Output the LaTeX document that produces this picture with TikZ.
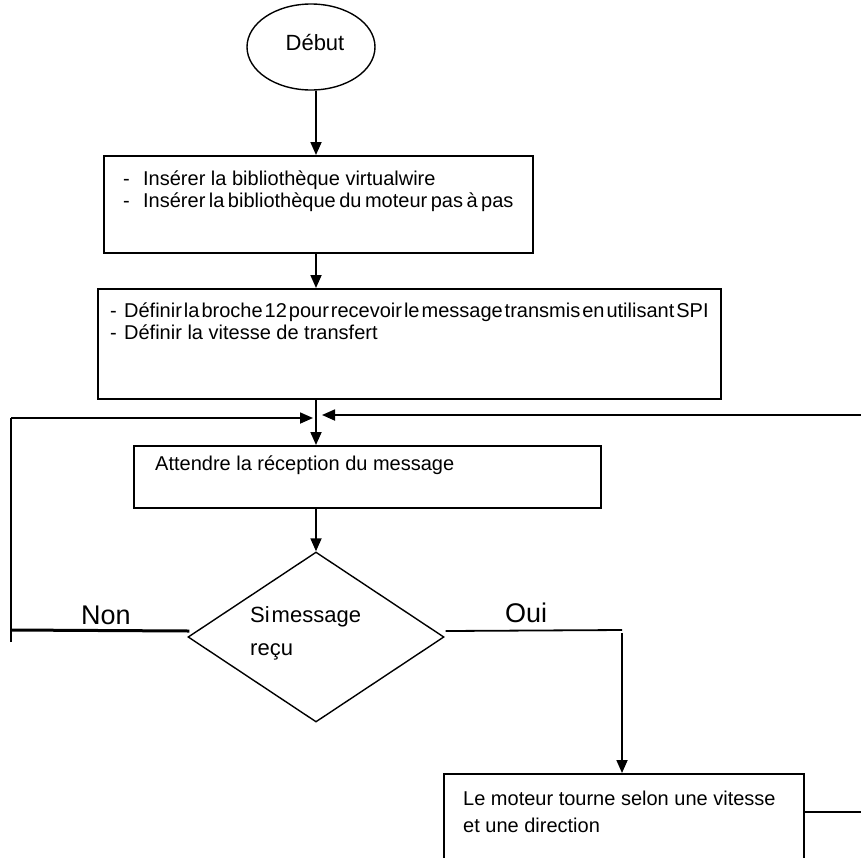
\documentclass[tikz,border=0pt]{standalone}
\usepackage{fontspec}
\setmainfont{Liberation Sans}
\usetikzlibrary{arrows.meta,calc,shapes.geometric}

\newcommand{\tiret}[1][20pt]{\makebox[#1][l]{-}}
\newcommand{\lignes}[1]{\begin{tabular}[t]{@{}l@{}}#1\end{tabular}}

\tikzset{
	boite/.style={draw, line width=1.8pt, inner sep=0pt, anchor=north west},
	texte/.style={inner sep=0pt, anchor=base west, font=\fontsize{20}{22}\selectfont},
	fleche/.style={line width=1.8pt, -{Triangle[length=13pt,width=11pt]}},
	trait/.style={line width=1.8pt},
}

\begin{document}
\begin{tikzpicture}[x=1pt,y=-1pt]
		%%%%% START %%%%%
		\useasboundingbox (0,0) rectangle (861,857);
		\clip (0,0) rectangle (861,857);
		\coordinate (axe) at (316,0);
		
		% debut
		\node[draw, ellipse, line width=1.4pt, inner sep=0pt, minimum width=128pt, minimum height=86pt] (debut) at (311,47) {};
		\node[inner sep=0pt, anchor=base, font=\fontsize{22}{24}\selectfont] (debuttxt) at (315,50) {Début};
		
		% bibliotheques
		\node[boite, minimum width=429pt, minimum height=97pt] (lib) at (103,155) {};
		\node[texte] (libtxt) at (123,185) {\lignes{\tiret Insérer la bibliothèque virtualwire\\
			\tiret{\spaceskip=3.5pt Insérer la bibliothèque du moteur pas à pas}}};
		
		% configuration
		\node[boite, minimum width=623pt, minimum height=110pt] (conf) at (97,288) {};
		\node[texte] (conftxt) at (110,317) {\lignes{\tiret[14pt]{\spaceskip=2pt Définir la broche 12 pour recevoir le message transmis en utilisant SPI}\\
			\tiret[14pt]Définir la vitesse de transfert}};
		
		% attente
		\node[boite, minimum width=467pt, minimum height=62pt] (att) at (133,445) {};
		\node[texte] (atttxt) at (155,470) {Attendre la réception du message};
		
		% test
		\node[draw, diamond, line width=1.4pt, inner sep=0pt, minimum width=256pt, minimum height=170pt] (test) at (316,637) {};
		\node[texte, font=\fontsize{22}{33}\selectfont] (testtxt) at (250,622) {\lignes{{\spaceskip=2pt Si message}\\reçu}};
		
		% moteur
		\node[boite, minimum width=360pt, minimum height=120pt] (mot) at (443,773) {};
		\node[texte, font=\fontsize{20}{27}\selectfont] (mottxt) at (463,805) {\lignes{Le moteur tourne selon une vitesse\\et une direction}};
		
		% fleches
		\draw[fleche] (debut.south -| axe) -- (axe |- lib.north);
		\draw[fleche] (lib.south -| axe) -- (conf.north -| axe);
		\draw[fleche] (conf.south -| axe) -- (att.north -| axe);
		\draw[fleche] (att.south -| axe) -- (test.north);
		
		% boucle non
		\coordinate (nonfin) at (11,630);
		\coordinate (retg) at (11,418);
		\draw[line width=3pt] ($(test.west)+(2,-6)$) -- (nonfin);
		\draw[trait] ($(nonfin)+(0,12)$) -- (retg);
		\draw[fleche] (retg) -- ($(axe |- retg)+(-3,0)$);
		\node[inner sep=0pt, anchor=base, font=\fontsize{27}{30}\selectfont] (non) at (106,624) {Non};
		
		% branche oui
		\coordinate (oui) at (622,630);
		\draw[trait] ($(test.east)+(1,-6)$) -- (oui);
		\draw[fleche] ($(oui)+(0,3)$) -- (oui |- mot.north);
		\node[inner sep=0pt, anchor=base, font=\fontsize{27}{30}\selectfont] (ouitxt) at (526,622) {Oui};
		
		% retour droite
		\coordinate (retd) at (861,415);
		\coordinate (sortie) at (861,812);
		\draw[fleche] (retd) -- ($(axe |- retd)+(6,0)$);
		\draw[trait] (mot.east |- sortie) -- (sortie);
		%%%%% END %%%%%
\end{tikzpicture}
\end{document}
